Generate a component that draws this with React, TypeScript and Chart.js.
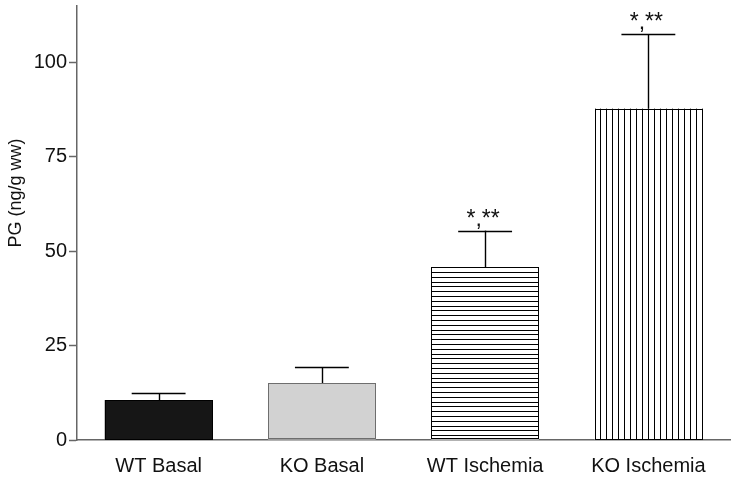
import React, { useEffect, useRef } from "react";
import { Chart, registerables } from "chart.js";

Chart.register(...registerables);

const categories = ["WT Basal", "KO Basal", "WT Ischemia", "KO Ischemia"];
const means = [10.6, 15.1, 45.8, 87.8];
const sem = [1.9, 4.2, 9.7, 19.8];
const annotations = ["", "", "*,**", "*,**"];
const yTitle = "PG (ng/g ww)";
const yMin = 0;
const yMax = 115;
const yStep = 25;

const FONT = "'Liberation Sans', Arial, sans-serif";
const fills = ["#161616", "#d2d2d2", "#ffffff", "#ffffff"];
const borders = ["#000000", "#6e6e6e", "#000000", "#000000"];
const fillStyles = ["solid", "solid", "horizontal", "vertical"];

const barExtras = {
  id: "barExtras",
  afterDatasetsDraw(chart: any) {
    const ctx = chart.ctx;
    const meta = chart.getDatasetMeta(0);
    const yScale = chart.scales.y;
    meta.data.forEach((bar: any, i: number) => {
      const p = bar.getProps(["x", "y", "base", "width"], true);
      const left = p.x - p.width / 2;
      const right = p.x + p.width / 2;
      const top = Math.min(p.y, p.base);
      const bottom = Math.max(p.y, p.base);
      ctx.save();
      ctx.strokeStyle = "#000";
      ctx.lineWidth = 1;
      if (fillStyles[i] === "horizontal") {
        ctx.beginPath();
        for (let yy = top; yy < bottom; yy += 4.8) {
          const py = Math.round(yy) + 0.5;
          ctx.moveTo(left, py);
          ctx.lineTo(right, py);
        }
        ctx.stroke();
      } else if (fillStyles[i] === "vertical") {
        ctx.beginPath();
        for (let xx = left; xx < right; xx += 5.95) {
          const px = Math.round(xx) + 0.5;
          ctx.moveTo(px, top);
          ctx.lineTo(px, bottom);
        }
        ctx.stroke();
      }
      // border
      ctx.strokeStyle = borders[i];
      ctx.strokeRect(Math.round(left) + 0.5, Math.round(top) + 0.5, Math.round(right - left) - 1, Math.round(bottom - top) - 1);
      // error bar
      const yTop = yScale.getPixelForValue(means[i] + sem[i]);
      ctx.strokeStyle = "#000";
      ctx.lineWidth = 1.4;
      ctx.beginPath();
      const cx = Math.round(p.x) + 0.5;
      ctx.moveTo(cx, top);
      ctx.lineTo(cx, yTop);
      ctx.moveTo(p.x - p.width / 4, Math.round(yTop) + 0.5);
      ctx.lineTo(p.x + p.width / 4, Math.round(yTop) + 0.5);
      ctx.stroke();
      if (annotations[i]) {
        ctx.fillStyle = "#111";
        ctx.font = `23px ${FONT}`;
        ctx.textAlign = "center";
        ctx.textBaseline = "alphabetic";
        ctx.fillText(annotations[i], p.x - 2, yTop - 5);
      }
      ctx.restore();
    });
  },
  afterDraw(chart: any) {
    const ctx = chart.ctx;
    ctx.save();
    ctx.translate(16, 193);
    ctx.rotate(-Math.PI / 2);
    ctx.fillStyle = "#111";
    ctx.font = `18px ${FONT}`;
    ctx.textAlign = "center";
    ctx.textBaseline = "middle";
    ctx.fillText(yTitle, 0, 0);
    ctx.restore();
  },
};

export default function App() {
  const ref = useRef<HTMLCanvasElement | null>(null);
  useEffect(() => {
    if (!ref.current) return;
    const chart = new Chart(ref.current, {
      type: "bar",
      data: {
        labels: categories,
        datasets: [
          {
            data: means,
            backgroundColor: fills,
            borderColor: borders,
            borderWidth: 0,
            barPercentage: 0.66,
            categoryPercentage: 1,
          },
        ],
      },
      options: {
        responsive: true,
        maintainAspectRatio: false,
        animation: false,
        layout: { padding: { top: 6, right: 6, left: 0, bottom: 0 } },
        plugins: { legend: { display: false }, tooltip: { enabled: false } },
        scales: {
          x: {
            grid: { display: true, drawOnChartArea: false, drawTicks: false },
            border: { color: "#666", width: 1.5 },
            ticks: { color: "#111", font: { size: 20, family: FONT }, padding: 14 },
            afterFit: (scale: any) => {
              scale.height = 41;
              scale.paddingLeft = 0;
              scale.paddingRight = 0;
            },
          },
          y: {
            min: yMin,
            max: yMax,
            ticks: {
              stepSize: yStep,
              includeBounds: false,
              color: "#111",
              font: { size: 20, family: FONT },
              padding: 2,
            },
            grid: { drawOnChartArea: false, drawTicks: true, tickLength: 8, tickColor: "#666", tickWidth: 1.5 },
            border: { color: "#666", width: 1.5 },
            afterFit: (scale: any) => {
              scale.width = 77;
              scale.paddingTop = 0;
              scale.paddingBottom = 0;
            },
          },
        },
      },
      plugins: [barExtras],
    } as any);
    return () => chart.destroy();
  }, []);
  return (
    <div style={{ position: "fixed", left: 0, top: 0, width: 736, height: 481, background: "#fff" }}>
      <canvas ref={ref} />
    </div>
  );
}
